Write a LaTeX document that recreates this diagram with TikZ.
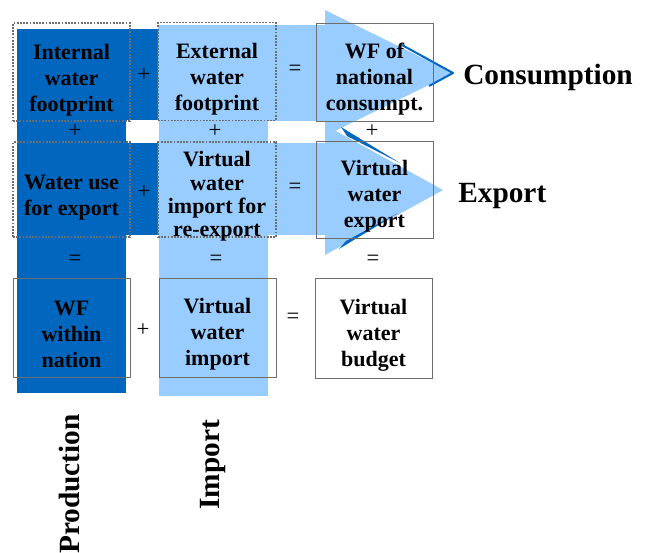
\documentclass[tikz,border=0pt]{standalone}
\usepackage{fontspec}
\setmainfont{Liberation Serif}
\usetikzlibrary{calc}
\definecolor{prodblue}{RGB}{0,102,190}
\definecolor{impblue}{RGB}{153,204,255}
\definecolor{boxgray}{RGB}{110,110,110}

\tikzset{
  wfbox/.style={minimum width=87.75pt, inner sep=0pt},
  dotbox/.style={wfbox, draw=boxgray, dash pattern=on 1.4pt off 1pt, line width=0.8pt},
  solidbox/.style={wfbox, draw=boxgray, line width=0.7pt},
  wftext/.style={inner sep=0pt, align=center, font=\fontsize{16.5}{19.5}\selectfont\bfseries},
  op/.style={inner sep=0pt, font=\fontsize{17}{19}\selectfont},
  flowlabel/.style={inner sep=0pt, font=\fontsize{22}{24}\selectfont\bfseries}
}

\begin{document}
\begin{tikzpicture}[x=0.75pt,y=-0.75pt]
\useasboundingbox (0,0) rectangle (646,553);

% production arrow (dark)
\fill [prodblue] (17,29) rectangle (126,393);
\fill [prodblue] (17,29) rectangle (160,120);
\fill [prodblue] (17,143) rectangle (160,235);

% import arrow (light)
\fill [impblue] (159,25) rectangle (268,396);
\fill [impblue] (158,25) rectangle (326,121);
\fill [impblue] (158,143) rectangle (326,235);
\coordinate (c1) at (453,73);
\coordinate (e1) at (443,190);
\fill [impblue] (325,10) -- (c1) -- (325,136) -- cycle;
\fill [impblue] (325,125) -- (e1) -- (325,255) -- cycle;

% edges of the dark heads
\draw [prodblue, line width=1.5pt, line join=round] (402,45) -- (c1) -- (429,86);
\fill [prodblue] (341,127) -- (400,163) -- (347,136) -- cycle;
\fill [prodblue] (339,249) -- (346,241) -- (398,213) -- cycle;

% boxes
\node [dotbox, minimum height=73.5pt] (intwf) at (71.5,72) {};
\node [dotbox, minimum height=73pt, minimum width=88.5pt] (extwf) at (217,71.5) {};
\node [solidbox, minimum height=73.5pt] (conswf) at (374.5,72) {};
\node [dotbox, minimum height=71.25pt] (expuse) at (71.5,189.5) {};
\node [dotbox, minimum height=71.25pt, minimum width=88.5pt] (reexp) at (217,189.5) {};
\node [solidbox, minimum height=72.75pt] (vwexp) at (374.5,189.5) {};
\node [solidbox, minimum height=74.25pt] (wfnat) at (71.5,327.5) {};
\node [solidbox, minimum height=74.25pt] (vwimp) at (217.5,327.5) {};
\node [solidbox, minimum height=75pt] (vwbud) at (373.5,328) {};

% box texts, set a little low as in the source
\node [wftext] (intwf-t) at ($(intwf)+(0,8)$) {Internal\\water\\footprint};
\node [wftext] (extwf-t) at ($(extwf)+(0,8)$) {External\\water\\footprint};
\node [wftext] (conswf-t) at ($(conswf)+(0,7)$) {WF of\\national\\consumpt.};
\node [wftext] (expuse-t) at ($(expuse)+(0,8)$) {Water use\\for export};
\node [wftext, font=\fontsize{16.5}{17.5}\selectfont\bfseries] (reexp-t) at ($(reexp)+(0,7)$) {Virtual\\water\\import for\\re-export};
\node [wftext] (vwexp-t) at ($(vwexp)+(0,7)$) {Virtual\\water\\export};
\node [wftext] (wfnat-t) at ($(wfnat)+(0,7)$) {WF\\within\\nation};
\node [wftext] (vwimp-t) at ($(vwimp)+(0,7)$) {Virtual\\water\\import};
\node [wftext] (vwbud-t) at ($(vwbud)+(0,7)$) {Virtual\\water\\budget};

% operators
\node [op] (p1) at (144,75) {+};
\node [op] (q1) at (295,70) {=};
\node [op] (p2) at (144,192) {+};
\node [op] (q2) at (295,188) {=};
\node [op] (p3) at (143,330) {+};
\node [op] (q3) at (293,318) {=};
\foreach \x/\n in {75/a,215/b,372/c}
  \node [op] (plus\n) at (\x,131) {+};
\foreach \x/\n in {75/a,216/b,373/c}
  \node [op] (eq\n) at (\x,260) {=};

% flow labels
\node [flowlabel, anchor=west] (cons) at (463,77) {Consumption};
\node [flowlabel, anchor=west] (export) at (458,196) {Export};
\node [flowlabel, rotate=90] (prod) at (70,484) {Production};
\node [flowlabel, rotate=90] (imp) at (213,465) {Import};
\end{tikzpicture}
\end{document}
